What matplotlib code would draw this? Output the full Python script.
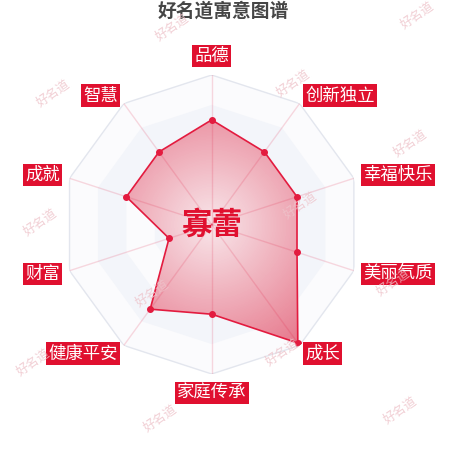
import numpy as np
import matplotlib
matplotlib.use('Agg')
import matplotlib.pyplot as plt
from matplotlib.colors import LinearSegmentedColormap

plt.rcParams['font.family'] = ['Noto Sans CJK SC', 'DejaVu Sans']

# ---------------- data ----------------
title = '好名道寓意图谱'
name = '寡蕾'
categories = ['品德', '创新独立', '幸福快乐', '美丽气质', '成长',
              '家庭传承', '健康平安', '财富', '成就', '智慧']
values = [70, 60, 60, 60, 98, 60, 70, 30, 60, 60]
max_value = 100
ring_levels = [100, 80, 60, 40, 20]
watermark_text = '好名道'
watermark_pos = [(172, 27), (417, 15), (53, 93), (293, 83), (410, 143),
                 (300, 205), (40, 222), (393, 282), (152, 293),
                 (33, 362), (282, 352), (160, 418), (400, 410)]

# ---------------- figure ----------------
W = 450
fig = plt.figure(figsize=(4.5, 4.5), dpi=100)
cx, cy, R = 211.7, 224.5, 149.5
ax = fig.add_axes([(cx - R) / W, 1 - (cy + R) / W, 2 * R / W, 2 * R / W],
                  projection='polar')
ax.set_theta_zero_location('N')
ax.set_theta_direction(-1)

n = len(categories)
theta = np.arange(n) * 2 * np.pi / n
tc = np.append(theta, theta[0])

ring_colors = ['#fbfbfd', '#f3f5fa', '#fbfbfd', '#f3f5fa', '#fbfbfd']
for lvl, col in zip(ring_levels, ring_colors):
    ax.fill(tc, [lvl] * (n + 1), color=col, lw=0, zorder=1)
ax.plot(tc, [max_value] * (n + 1), color='#e3e6ee', lw=1, zorder=2)

vals = np.array(values, dtype=float)
vc = np.append(vals, vals[0])
clip = ax.fill(tc, vc, facecolor='none', edgecolor='none', zorder=3)[0]

cmap = LinearSegmentedColormap.from_list(
    'g', [(248 / 255, 230 / 255, 234 / 255), (230 / 255, 118 / 255, 138 / 255)])
tg = np.linspace(0, 2 * np.pi, 361)
rg = np.linspace(0, max_value, 101)
T, RR = np.meshgrid(tg, rg)
C = (RR[:-1, :-1] + RR[1:, 1:]) / 2
mesh = ax.pcolormesh(T, RR, C, cmap=cmap, vmin=0, vmax=max_value,
                     shading='flat', zorder=3, antialiased=False)
mesh.set_clip_path(clip)

for t in theta:
    ax.plot([t, t], [0, max_value], color=(0.88, 0.1, 0.25, 0.16), lw=1, zorder=4)

ax.plot(tc, vc, color='#e31b3f', lw=1.2, zorder=5)
ax.plot(theta, vals, 'o', ms=4, color='#e31b3f', zorder=6)

# labels
fs = 12.5
pad = 0.12
pad_px = pad * fs * 100 / 72
r_lab = (157.3 + pad_px) / R * max_value
for t, lab in zip(theta, categories):
    s, c = np.sin(t), np.cos(t)
    if abs(s) < 0.1:
        ha = 'center'
        va = 'bottom' if c > 0 else 'top'
    else:
        ha = 'left' if s > 0 else 'right'
        va = 'center'
    ax.text(t, r_lab, lab, ha=ha, va=va, color='white', fontsize=fs,
            bbox=dict(boxstyle='square,pad=%s' % pad, fc='#e0102f', ec='none'),
            clip_on=False, zorder=7)

ax.text(0, 0, name, ha='center', va='center', fontsize=22, fontweight='bold',
        color='#e0102f', zorder=8)

ax.set_ylim(0, max_value)
ax.set_xticks([])
ax.set_yticks([])
ax.grid(False)
ax.spines['polar'].set_visible(False)
ax.set_facecolor('none')

fig.text(223.5 / W, 1 - 11 / W, title, ha='center', va='center', fontsize=13.5,
         fontweight='bold', color='#464646')

for (x, y) in watermark_pos:
    fig.text(x / W, 1 - y / W, watermark_text, rotation=35, fontsize=9,
             color='#eec3ca', alpha=0.8, ha='center', va='center', zorder=10)

fig.savefig('out.png', dpi=100, facecolor='white')
